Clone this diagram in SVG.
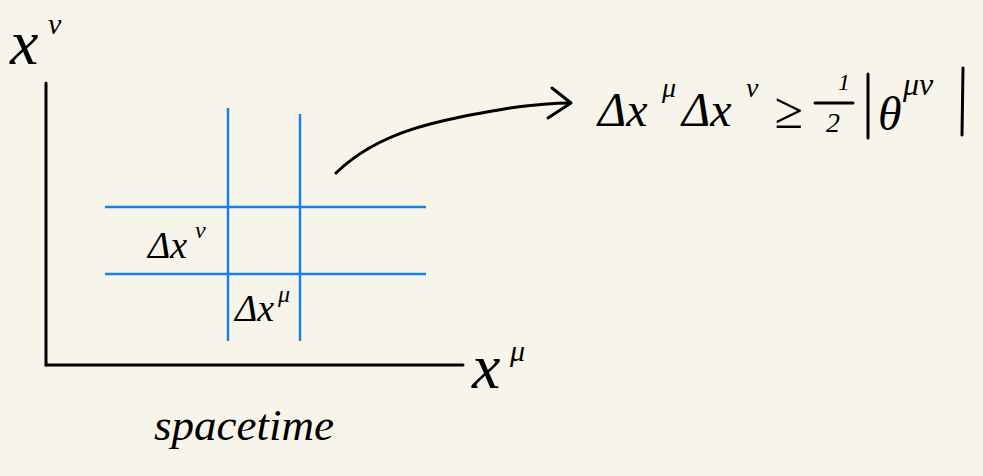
<svg xmlns="http://www.w3.org/2000/svg" width="983" height="476" viewBox="0 0 983 476">
<style>
.ink{stroke:#000;stroke-width:3;fill:none;stroke-linecap:round;stroke-linejoin:round}
.grid{stroke:#1a7ff0;stroke-width:2.5;fill:none}
.t{font-family:"Liberation Serif",serif;font-style:italic;fill:#000}
</style>
<rect width="983" height="476" fill="#f7f5ea"/>
<g id="axes">
<line class="ink" x1="46" y1="83" x2="46" y2="365"/>
<line class="ink" x1="46" y1="365" x2="463" y2="365"/>
</g>
<g id="grid">
<line class="grid" x1="228" y1="108" x2="228" y2="341"/>
<line class="grid" x1="300" y1="114" x2="300" y2="341"/>
<line class="grid" x1="105" y1="207" x2="426" y2="207"/>
<line class="grid" x1="105" y1="274" x2="426" y2="274"/>
</g>
<g id="connectors">
<path class="ink" d="M336,173 C380,130 440,120 510,108 C540,104 560,103 570,103"/>
<path class="ink" d="M552,88 L571,103 L548,118"/>
</g>
<g id="label-xnu">
<text class="t" x="10" y="64" font-size="64">x</text>
<text class="t" x="48" y="34" font-size="30">ν</text>
</g>
<g id="label-xmu">
<text class="t" x="472" y="388" font-size="64">x</text>
<text class="t" x="510" y="361" font-size="30">μ</text>
</g>
<g id="label-dxnu">
<text class="t" x="148" y="258" font-size="38">Δx</text>
<text class="t" x="195" y="238" font-size="24">ν</text>
</g>
<g id="label-dxmu">
<text class="t" x="235" y="321" font-size="38">Δx</text>
<text class="t" x="278" y="302" font-size="24">μ</text>
</g>
<g id="formula">
<text class="t" x="598" y="126" font-size="48">Δx</text>
<text class="t" x="662" y="97" font-size="28">μ</text>
<text class="t" x="682" y="126" font-size="48">Δx</text>
<text class="t" x="746" y="97" font-size="28">ν</text>
<text class="t" x="774" y="128" font-size="52">≥</text>
<text class="t" x="838" y="90" font-size="24">1</text>
<line class="ink" x1="815" y1="103" x2="853" y2="103" stroke-width="2.5"/>
<text class="t" x="826" y="132" font-size="28">2</text>
<line class="ink" x1="868" y1="74" x2="868" y2="138"/>
<text class="t" x="878" y="130" font-size="48">θ</text>
<text class="t" x="903" y="95" font-size="32">μν</text>
<line class="ink" x1="963" y1="68" x2="962" y2="135"/>
</g>
<g id="label-spacetime">
<text class="t" x="154" y="440" font-size="44" textLength="180" lengthAdjust="spacingAndGlyphs">spacetime</text>
</g>
</svg>
